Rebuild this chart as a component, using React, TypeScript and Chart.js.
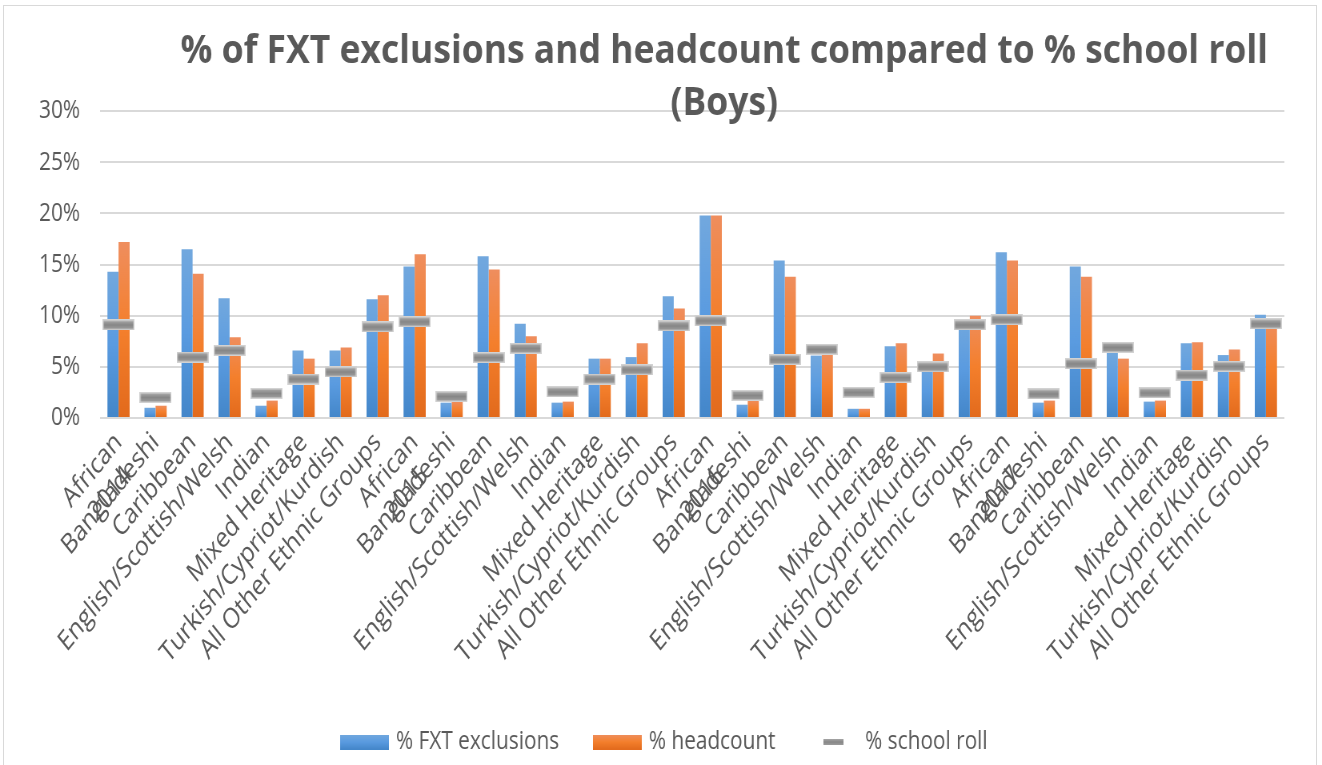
import React, { useEffect, useRef } from "react";
import { Chart, registerables } from "chart.js";

Chart.register(...registerables);

// Category structure: four school years, each with the same eight ethnic groups
const years = ["2014", "2015", "2016", "2017"];
const ethnicGroups = [
  "African",
  "Bangladeshi",
  "Caribbean",
  "English/Scottish/Welsh",
  "Indian",
  "Mixed Heritage",
  "Turkish/Cypriot/Kurdish",
  "All Other Ethnic Groups",
];

// Percent values per category (year by year, groups in the order above)
const fxtExclusions = [
  14.3, 1.0, 16.5, 11.7, 1.2, 6.6, 6.6, 11.6,
  14.8, 1.5, 15.8, 9.2, 1.5, 5.8, 5.95, 11.9,
  19.8, 1.3, 15.4, 6.1, 0.9, 7.0, 5.5, 9.6,
  16.2, 1.5, 14.8, 6.4, 1.6, 7.3, 6.15, 10.1,
];
const headcount = [
  17.2, 1.2, 14.1, 7.9, 1.7, 5.8, 6.9, 12.0,
  16.0, 1.6, 14.5, 8.0, 1.6, 5.8, 7.3, 10.7,
  19.8, 1.8, 13.8, 6.3, 0.9, 7.3, 6.3, 10.0,
  15.4, 1.7, 13.8, 5.8, 1.7, 7.4, 6.7, 9.6,
];
const schoolRoll = [
  9.1, 2.0, 5.95, 6.6, 2.4, 3.8, 4.5, 8.9,
  9.4, 2.1, 5.9, 6.8, 2.55, 3.8, 4.7, 9.0,
  9.5, 2.2, 5.7, 6.7, 2.5, 3.95, 5.0, 9.1,
  9.6, 2.35, 5.3, 6.9, 2.45, 4.2, 5.05, 9.2,
];

const seriesLabels = ["% FXT exclusions", "% headcount", "% school roll"];
const titleLines = [
  "% of FXT exclusions and headcount compared to % school roll",
  "(Boys)",
];
const yMin = 0;
const yMax = 30;
const yStep = 5;

const categories = years.flatMap(() => ethnicGroups);

// The drawing surface is wider than its on-page box, so the whole chart
// is shown horizontally condensed.
const PAGE_W = 1322;
const PAGE_H = 765;
const SURFACE_W = 1652;

const FONT = "'Open Sans', 'DejaVu Sans', sans-serif";
const TEXT = "#595959";
const GRID = "#d9d9d9";
const LABEL_SIZE = 28;
const BODY_SIZE = 26;

const blueStops: [number, string][] = [
  [0, "#72a8de"],
  [0.5, "#5a9be0"],
  [1, "#4386c9"],
];
const orangeStops: [number, string][] = [
  [0, "#ef8e5e"],
  [0.5, "#f47f2c"],
  [1, "#e26a1c"],
];

function barGradient(stops: [number, string][]) {
  return (ctx: any) => {
    const chart = ctx.chart;
    const yScale = chart.scales?.y;
    if (!chart.chartArea || !yScale || ctx.type !== "data") return stops[1][1];
    const top = yScale.getPixelForValue(ctx.raw as number);
    const bottom = yScale.getPixelForValue(0);
    if (!isFinite(top) || !isFinite(bottom) || top === bottom) return stops[1][1];
    const g = chart.ctx.createLinearGradient(0, top, 0, bottom);
    stops.forEach(([o, c]) => g.addColorStop(o, c));
    return g;
  };
}

function gradientSwatch(w: number, h: number, stops: [number, string][]) {
  const c = document.createElement("canvas");
  c.width = w;
  c.height = h;
  const g2 = c.getContext("2d")!;
  const g = g2.createLinearGradient(0, 0, 0, h);
  stops.forEach(([o, col]) => g.addColorStop(o, col));
  g2.fillStyle = g;
  g2.fillRect(0, 0, w, h);
  return c;
}

// Grey dash used for the school-roll markers
function rollMarker(w: number, h: number, halo: boolean) {
  const c = document.createElement("canvas");
  c.width = w;
  c.height = h;
  const g2 = c.getContext("2d")!;
  let x = 0;
  let y = 0;
  let iw = w;
  let ih = h;
  if (halo) {
    g2.fillStyle = "#d2d2d2";
    g2.fillRect(0, 0, w, h);
    x = 1.5;
    y = 1.5;
    iw = w - 3;
    ih = h - 3;
  }
  const g = g2.createLinearGradient(0, y, 0, y + ih);
  g.addColorStop(0, "#a6a6a6");
  g.addColorStop(0.5, "#878787");
  g.addColorStop(1, "#9c9c9c");
  g2.fillStyle = g;
  g2.fillRect(x, y, iw, ih);
  return c;
}

const titlePlugin = {
  id: "wrappedTitle",
  afterDraw(chart: any) {
    const ctx = chart.ctx;
    ctx.save();
    ctx.fillStyle = TEXT;
    ctx.font = `bold 39px ${FONT}`;
    ctx.textAlign = "center";
    ctx.textBaseline = "middle";
    const cx = 905;
    const targetWidth = 1359;
    const w0 = ctx.measureText(titleLines[0]).width;
    const sx = targetWidth / w0;
    const ys = [52, 104];
    titleLines.forEach((line, i) => {
      ctx.save();
      ctx.translate(cx, ys[i]);
      ctx.scale(sx, 1);
      ctx.fillText(line, 0, 0);
      ctx.restore();
    });
    ctx.restore();
  },
};

// Second-level (year) category labels, rotated like the group labels
const yearLabelPlugin = {
  id: "yearLabels",
  afterDraw(chart: any) {
    const ctx = chart.ctx;
    const xs = chart.scales.x;
    const bottom = chart.chartArea.bottom;
    ctx.save();
    ctx.fillStyle = TEXT;
    ctx.font = `${LABEL_SIZE}px ${FONT}`;
    ctx.textAlign = "center";
    ctx.textBaseline = "middle";
    years.forEach((yr, g) => {
      const px = xs.getPixelForValue(g * ethnicGroups.length) - 10;
      ctx.save();
      ctx.translate(px, bottom + 76);
      ctx.rotate(-Math.PI / 4);
      ctx.fillText(yr, 0, 0);
      ctx.restore();
    });
    ctx.restore();
  },
};

// Nudge the legend row a little to the right of the page centre
const legendShiftPlugin = {
  id: "legendShift",
  afterLayout(chart: any) {
    const lg = chart.legend;
    if (!lg) return;
    lg.left += 29;
    lg.right += 29;
  },
};

export default function App() {
  const canvasRef = useRef<HTMLCanvasElement | null>(null);

  useEffect(() => {
    const canvas = canvasRef.current;
    if (!canvas) return;
    const legendImages = [
      gradientSwatch(61, 15, blueStops),
      gradientSwatch(61, 15, orangeStops),
      rollMarker(25, 6, false),
    ];
    const marker = rollMarker(40, 11, true);

    const chart = new Chart(canvas, {
      type: "bar",
      data: {
        labels: categories,
        datasets: [
          {
            type: "bar",
            label: seriesLabels[0],
            data: fxtExclusions,
            backgroundColor: barGradient(blueStops),
            borderWidth: 0,
            categoryPercentage: 0.6,
            barPercentage: 1.0,
            order: 1,
          },
          {
            type: "bar",
            label: seriesLabels[1],
            data: headcount,
            backgroundColor: barGradient(orangeStops),
            borderWidth: 0,
            categoryPercentage: 0.6,
            barPercentage: 1.0,
            order: 1,
          },
          {
            type: "line",
            label: seriesLabels[2],
            data: schoolRoll,
            showLine: false,
            pointStyle: marker as any,
            pointRadius: 6,
            backgroundColor: "#8c8c8c",
            borderColor: "#8c8c8c",
            order: 0,
          } as any,
        ],
      },
      options: {
        responsive: false,
        animation: false,
        devicePixelRatio: 1,
        layout: { padding: { top: 111, right: 47, bottom: 0, left: 0 } },
        plugins: {
          title: { display: false },
          tooltip: { enabled: false },
          legend: {
            display: true,
            position: "bottom",
            labels: {
              usePointStyle: true,
              pointStyleWidth: 53,
              boxHeight: BODY_SIZE,
              padding: 46,
              color: TEXT,
              font: { family: FONT, size: BODY_SIZE },
              generateLabels: (c: any) => {
                const items = (Chart.defaults.plugins.legend.labels as any).generateLabels(c);
                return items
                  .sort((a: any, b: any) => a.datasetIndex - b.datasetIndex)
                  .map((it: any) => ({
                    ...it,
                    pointStyle: legendImages[it.datasetIndex],
                    lineWidth: 0,
                  }));
              },
            },
          },
        },
        scales: {
          x: {
            offset: true,
            grid: { display: false, drawTicks: false },
            border: { display: false },
            ticks: {
              autoSkip: false,
              maxRotation: 45,
              minRotation: 45,
              padding: 8,
              color: TEXT,
              font: { family: FONT, size: LABEL_SIZE },
            },
            afterFit: (scale: any) => {
              scale.height = 265;
            },
          },
          y: {
            min: yMin,
            max: yMax,
            ticks: {
              stepSize: yStep,
              padding: 25,
              color: TEXT,
              font: { family: FONT, size: BODY_SIZE },
              callback: (v: any) => `${v}%`,
            },
            grid: { color: GRID, lineWidth: 2, drawTicks: false },
            border: { display: false },
            afterFit: (scale: any) => {
              scale.width = 125;
            },
          },
        },
      },
      plugins: [titlePlugin, yearLabelPlugin, legendShiftPlugin],
    });
    return () => chart.destroy();
  }, []);

  return (
    <div
      style={{
        position: "fixed",
        left: 0,
        top: 0,
        width: PAGE_W,
        height: PAGE_H,
        background: "#ffffff",
        overflow: "hidden",
      }}
    >
      <div
        style={{
          position: "absolute",
          left: 3,
          top: 5,
          width: 1314,
          height: 800,
          border: "1px solid #d9d9d9",
          boxSizing: "border-box",
        }}
      />
      <canvas
        ref={canvasRef}
        width={SURFACE_W}
        height={PAGE_H}
        style={{ position: "absolute", left: 0, top: 0, width: PAGE_W, height: PAGE_H }}
      />
    </div>
  );
}
